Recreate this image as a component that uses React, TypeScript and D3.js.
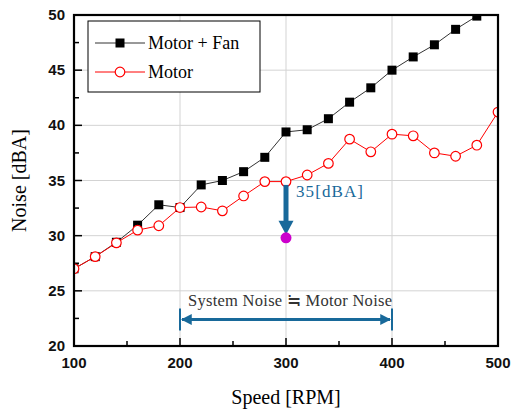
import React, { useEffect, useRef } from "react";
import * as d3 from "d3";

const speeds = [100, 120, 140, 160, 180, 200, 220, 240, 260, 280, 300, 320, 340, 360, 380, 400, 420, 440, 460, 480, 500];
const motorFan = [27.0, 28.1, 29.4, 30.95, 32.8, 32.55, 34.6, 35.0, 35.8, 37.1, 39.4, 39.6, 40.6, 42.1, 43.4, 45.0, 46.2, 47.3, 48.7, 49.9, 51.2];
const motor = [27.0, 28.1, 29.35, 30.5, 30.9, 32.55, 32.6, 32.25, 33.6, 34.9, 34.9, 35.5, 36.55, 38.75, 37.6, 39.2, 39.05, 37.5, 37.2, 38.2, 41.2];
const xTicks = [100, 200, 300, 400, 500];
const yTicks = [20, 25, 30, 35, 40, 45, 50];
const seriesNames = ["Motor + Fan", "Motor"];
const targetPoint = { speed: 300, value: 29.8 };
const arrowFrom = 34.6;
const rangeSpan = [200, 400];
const rangeValue = 22.4;
const rangeLabel = "System Noise \u2252 Motor Noise";
const dropLabel = "35[dBA]";

export default function App() {
  const ref = useRef<SVGSVGElement>(null);
  useEffect(() => {
    const svg = d3.select(ref.current);
    svg.selectAll("*").remove();
    const L = 74, R = 498, T = 15, B = 346;
    const x = d3.scaleLinear().domain([100, 500]).range([L, R]);
    const y = d3.scaleLinear().domain([20, 50]).range([B, T]);
    const blue = "#18699a";
    const serif = "'Liberation Serif', 'Times New Roman', serif";
    const sans = "'Liberation Sans', Arial, sans-serif";

    const defs = svg.append("defs");
    defs.append("clipPath").attr("id", "clip").append("rect").attr("x", L).attr("y", T).attr("width", R - L).attr("height", B - T);
    defs.append("marker").attr("id", "ah").attr("viewBox", "0 0 10 10").attr("refX", 9).attr("refY", 5)
      .attr("markerWidth", 3.6).attr("markerHeight", 3.6).attr("orient", "auto-start-reverse")
      .append("path").attr("d", "M0,0 L10,5 L0,10 Z").attr("fill", blue);

    // grid
    const g = svg.append("g");
    xTicks.slice(1, -1).forEach(t => g.append("line").attr("x1", x(t)).attr("x2", x(t)).attr("y1", T).attr("y2", B).attr("stroke", "#d3d3d3").attr("stroke-width", 1));
    yTicks.slice(1, -1).forEach(t => g.append("line").attr("x1", L).attr("x2", R).attr("y1", y(t)).attr("y2", y(t)).attr("stroke", "#d3d3d3").attr("stroke-width", 1));

    // ticks (inward)
    const xMinor = d3.range(150, 500, 100);
    const yMinor = d3.range(22.5, 50, 5);
    xTicks.forEach(t => g.append("line").attr("x1", x(t)).attr("x2", x(t)).attr("y1", B).attr("y2", B - 8).attr("stroke", "#000").attr("stroke-width", 1.5));
    xMinor.forEach(t => g.append("line").attr("x1", x(t)).attr("x2", x(t)).attr("y1", B).attr("y2", B - 5).attr("stroke", "#000").attr("stroke-width", 1.5));
    yTicks.forEach(t => g.append("line").attr("x1", L).attr("x2", L + 8).attr("y1", y(t)).attr("y2", y(t)).attr("stroke", "#000").attr("stroke-width", 1.5));
    yMinor.forEach(t => g.append("line").attr("x1", L).attr("x2", L + 5).attr("y1", y(t)).attr("y2", y(t)).attr("stroke", "#000").attr("stroke-width", 1.5));

    // tick labels
    xTicks.forEach(t => g.append("text").attr("x", x(t)).attr("y", 368).attr("text-anchor", "middle")
      .attr("font-family", sans).attr("font-weight", "bold").attr("font-size", 15).attr("fill", "#111").text(t));
    yTicks.forEach(t => g.append("text").attr("x", 65).attr("y", y(t) + 5).attr("text-anchor", "end")
      .attr("font-family", sans).attr("font-weight", "bold").attr("font-size", 15).attr("fill", "#111").text(t));

    // axis titles
    svg.append("text").attr("x", 286).attr("y", 404).attr("text-anchor", "middle")
      .attr("font-family", serif).attr("font-size", 20).text("Speed [RPM]");
    svg.append("text").attr("transform", `translate(26,${(T + B) / 2}) rotate(-90)`).attr("text-anchor", "middle")
      .attr("font-family", serif).attr("font-size", 20).text("Noise [dBA]");

    // series
    const data = speeds.map((s, i) => ({ s, a: motorFan[i], b: motor[i] }));
    const pg = svg.append("g").attr("clip-path", "url(#clip)");
    const lineA = d3.line<any>().x(d => x(d.s)).y(d => y(d.a));
    const lineB = d3.line<any>().x(d => x(d.s)).y(d => y(d.b));
    pg.append("path").attr("d", lineA(data)).attr("fill", "none").attr("stroke", "#333").attr("stroke-width", 1);
    data.forEach(d => pg.append("rect").attr("x", x(d.s) - 4.5).attr("y", y(d.a) - 4.5).attr("width", 9).attr("height", 9).attr("fill", "#000"));
    pg.append("path").attr("d", lineB(data)).attr("fill", "none").attr("stroke", "#f00").attr("stroke-width", 1);
    data.forEach(d => pg.append("circle").attr("cx", x(d.s)).attr("cy", y(d.b)).attr("r", 4.8).attr("fill", "#fff").attr("stroke", "#f00").attr("stroke-width", 1.2));

    // drop arrow
    const ax = x(targetPoint.speed);
    svg.append("line").attr("x1", ax).attr("x2", ax).attr("y1", y(arrowFrom)).attr("y2", y(targetPoint.value) - 14)
      .attr("stroke", blue).attr("stroke-width", 5);
    svg.append("path").attr("d", `M${ax - 7.5},${y(targetPoint.value) - 17} L${ax + 7.5},${y(targetPoint.value) - 17} L${ax},${y(targetPoint.value) - 3} Z`).attr("fill", blue);
    svg.append("circle").attr("cx", ax).attr("cy", y(targetPoint.value)).attr("r", 5.5).attr("fill", "#cc00cc");
    svg.append("text").attr("x", ax + 10).attr("y", 197).attr("font-family", serif)
      .attr("font-size", 17).attr("fill", blue).attr("textLength", 67).attr("lengthAdjust", "spacing").text(dropLabel);

    // range arrow
    const ry = y(rangeValue);
    [rangeSpan[0], rangeSpan[1]].forEach(s => svg.append("line").attr("x1", x(s)).attr("x2", x(s)).attr("y1", ry - 11).attr("y2", ry + 11).attr("stroke", blue).attr("stroke-width", 2));
    svg.append("line").attr("x1", x(rangeSpan[0]) + 2).attr("x2", x(rangeSpan[1]) - 2).attr("y1", ry).attr("y2", ry)
      .attr("stroke", blue).attr("stroke-width", 3).attr("marker-start", "url(#ah)").attr("marker-end", "url(#ah)");
    svg.append("text").attr("x", 188).attr("y", 306)
      .attr("font-family", serif).attr("font-size", 16.5).attr("fill", "#333").attr("textLength", 204).attr("lengthAdjust", "spacing").text(rangeLabel);

    // frame
    svg.append("rect").attr("x", L).attr("y", T).attr("width", R - L).attr("height", B - T).attr("fill", "none").attr("stroke", "#000").attr("stroke-width", 2.2);

    // legend
    const lg = svg.append("g");
    lg.append("rect").attr("x", 88).attr("y", 21).attr("width", 172).attr("height", 71).attr("fill", "#fff").attr("stroke", "#000").attr("stroke-width", 1);
    const ly = [43, 72];
    lg.append("line").attr("x1", 95).attr("x2", 145).attr("y1", ly[0]).attr("y2", ly[0]).attr("stroke", "#333").attr("stroke-width", 1);
    lg.append("rect").attr("x", 120 - 4.5).attr("y", ly[0] - 4.5).attr("width", 9).attr("height", 9).attr("fill", "#000");
    lg.append("line").attr("x1", 95).attr("x2", 145).attr("y1", ly[1]).attr("y2", ly[1]).attr("stroke", "#f00").attr("stroke-width", 1);
    lg.append("circle").attr("cx", 120).attr("cy", ly[1]).attr("r", 4.8).attr("fill", "#fff").attr("stroke", "#f00").attr("stroke-width", 1.2);
    seriesNames.forEach((n, i) => lg.append("text").attr("x", 148).attr("y", ly[i] + 6).attr("font-family", serif)
      .attr("font-size", 18).attr("fill", "#000").text(n));
  }, []);
  return <svg ref={ref} width={524} height={409} style={{ position: "absolute", left: 0, top: 0, background: "#fff" }} />;
}
